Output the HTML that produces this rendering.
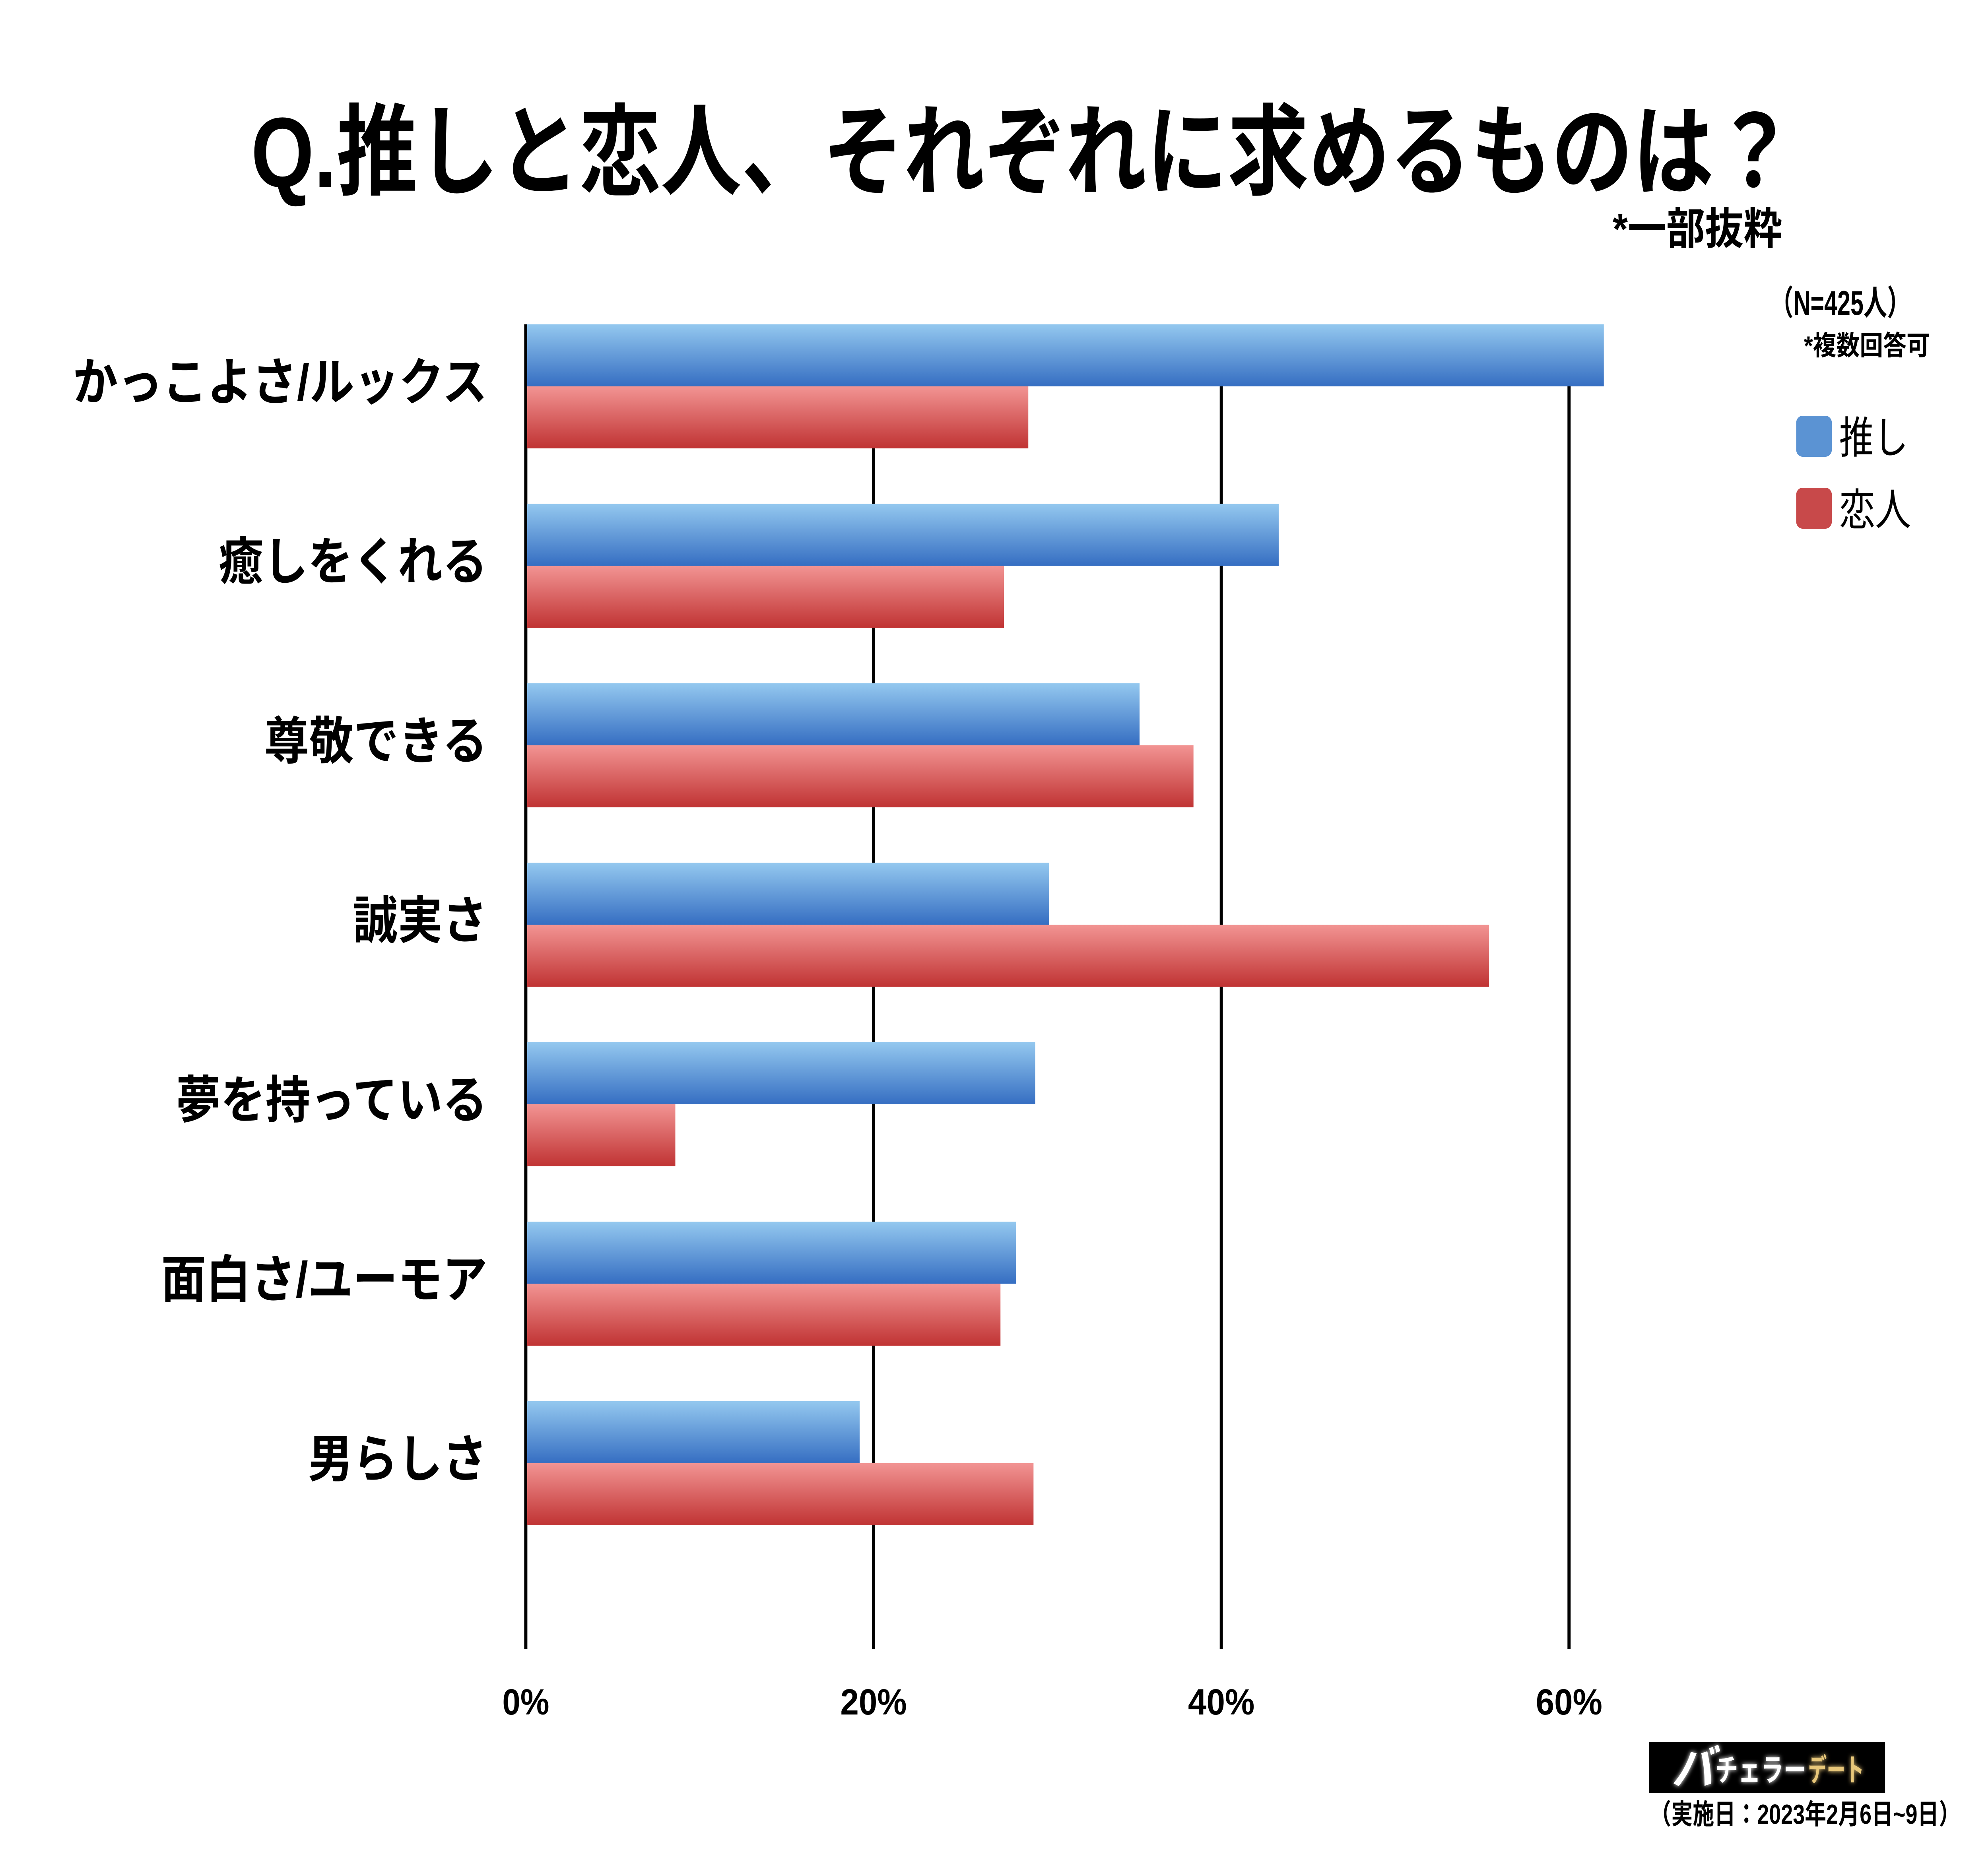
<!DOCTYPE html>
<html><head><meta charset="utf-8"><style>
html,body{margin:0;padding:0;background:#fff;overflow:hidden;width:100%;height:100%;}
svg{display:block;width:100vw;height:100vh;}
text{font-family:"Liberation Sans","Noto Sans CJK JP",sans-serif;}
</style></head><body>
<svg id="chart" viewBox="0 0 5679 4674" preserveAspectRatio="none" xmlns="http://www.w3.org/2000/svg">
<defs>
<linearGradient id="gBlue" x1="0" y1="0" x2="0" y2="1"><stop offset="0" stop-color="#94c8ef"/><stop offset="1" stop-color="#356ec2"/></linearGradient>
<linearGradient id="gRed" x1="0" y1="0" x2="0" y2="1"><stop offset="0" stop-color="#f29493"/><stop offset="1" stop-color="#c03333"/></linearGradient>
<filter id="glow" x="-20%" y="-20%" width="140%" height="140%"><feGaussianBlur stdDeviation="6" result="b"/><feMerge><feMergeNode in="b"/><feMergeNode in="SourceGraphic"/></feMerge></filter>
</defs>
<text x="717" y="470" font-size="250" font-weight="bold" textLength="4410" lengthAdjust="spacingAndGlyphs">Q.推しと恋人、それぞれに求めるものは？</text>
<text x="4607" y="614" font-size="110" font-weight="bold" textLength="484" lengthAdjust="spacingAndGlyphs">*一部抜粋</text>
<text x="5056" y="792" font-size="86" font-weight="bold" textLength="402" lengthAdjust="spacingAndGlyphs">（N=425人）</text>
<text x="5153" y="893" font-size="68" font-weight="bold" textLength="360" lengthAdjust="spacingAndGlyphs">*複数回答可</text>
<g>
<rect x="5131" y="1046" width="102" height="103" rx="18" fill="#5b93d3"/>
<text x="5254" y="1140" font-size="110" textLength="197" lengthAdjust="spacingAndGlyphs">推し</text>
<rect x="5131" y="1227" width="102" height="103" rx="18" fill="#c8494a"/>
<text x="5254" y="1321" font-size="110" textLength="205" lengthAdjust="spacingAndGlyphs">恋人</text>
</g>
<g id="grid"></g>
<g id="bars"></g>
<g id="labels"></g>
<g id="ticks"></g>
<g>
<rect x="4711" y="4382" width="674" height="128" fill="#000"/>
<text x="4775" y="4490" font-size="120" font-weight="bold" fill="#fff" filter="url(#glow)" font-style="italic">バ</text>
<text x="4900" y="4480" font-size="78" font-weight="bold" fill="#fff" filter="url(#glow)" textLength="260" lengthAdjust="spacingAndGlyphs">チェラー</text>
<text x="5165" y="4480" font-size="78" font-weight="bold" fill="#e8c77a" filter="url(#glow)" textLength="160" lengthAdjust="spacingAndGlyphs">デート</text>
</g>
<text x="4713" y="4588" font-size="70" font-weight="bold" textLength="887" lengthAdjust="spacingAndGlyphs">（実施日：2023年2月6日~9日）</text>
</svg>
<script>
const categories = ["かっこよさ/ルックス","癒しをくれる","尊敬できる","誠実さ","夢を持っている","面白さ/ユーモア","男らしさ"];
const oshiValues = [62.0, 43.3, 35.3, 30.1, 29.3, 28.2, 19.2];
const koibitoValues = [28.9, 27.5, 38.4, 55.4, 8.6, 27.3, 29.2];
const tickValues = [0, 20, 40, 60];
const tickLabels = ["0%","20%","40%","60%"];

const NS = "http://www.w3.org/2000/svg";
const X0 = 1502, PX_PER_PCT = 49.67;
const TOP = 816, GROUP_STEP = 451.5, BAR_H = 156, AXIS_BOTTOM = 4148;
function xScale(v){ return X0 + v * PX_PER_PCT; }
function groupTop(i){ return TOP + i * GROUP_STEP; }
function mk(tag, attrs){ const e = document.createElementNS(NS, tag); for (const k in attrs) e.setAttribute(k, attrs[k]); return e; }

const grid = document.getElementById('grid');
tickValues.forEach((t, i) => {
  const x = xScale(t);
  const ln = mk('line', {x1:x, x2:x, y1:TOP, y2:AXIS_BOTTOM, stroke:'#000', 'stroke-width':9});
  
  
  grid.appendChild(ln);
});

const bars = document.getElementById('bars');
categories.forEach((c, i) => {
  const y = groupTop(i);
  const b = mk('rect', {x:xScale(0)+4, y:y, width:xScale(oshiValues[i]) - xScale(0) - 4, height:BAR_H, fill:'url(#gBlue)'});
  
  
  bars.appendChild(b);
  const r = mk('rect', {x:xScale(0)+4, y:y + BAR_H, width:xScale(koibitoValues[i]) - xScale(0) - 4, height:BAR_H, fill:'url(#gRed)'});
  
  
  bars.appendChild(r);
});

const labels = document.getElementById('labels');
categories.forEach((c, i) => {
  const t = mk('text', {x:1392, y:groupTop(i) + BAR_H + 34, 'font-size':128, 'font-weight':'bold', 'text-anchor':'end'});
  t.textContent = c;
  
  
  labels.appendChild(t);
});

const ticks = document.getElementById('ticks');
tickValues.forEach((v, i) => {
  const t = mk('text', {x:xScale(v), y:4313, 'font-size':92, 'font-weight':'bold', 'text-anchor':'middle', textLength: i === 0 ? 134 : 190, lengthAdjust:'spacingAndGlyphs'});
  t.textContent = tickLabels[i];
  
  
  ticks.appendChild(t);
});
</script>
</body></html>
